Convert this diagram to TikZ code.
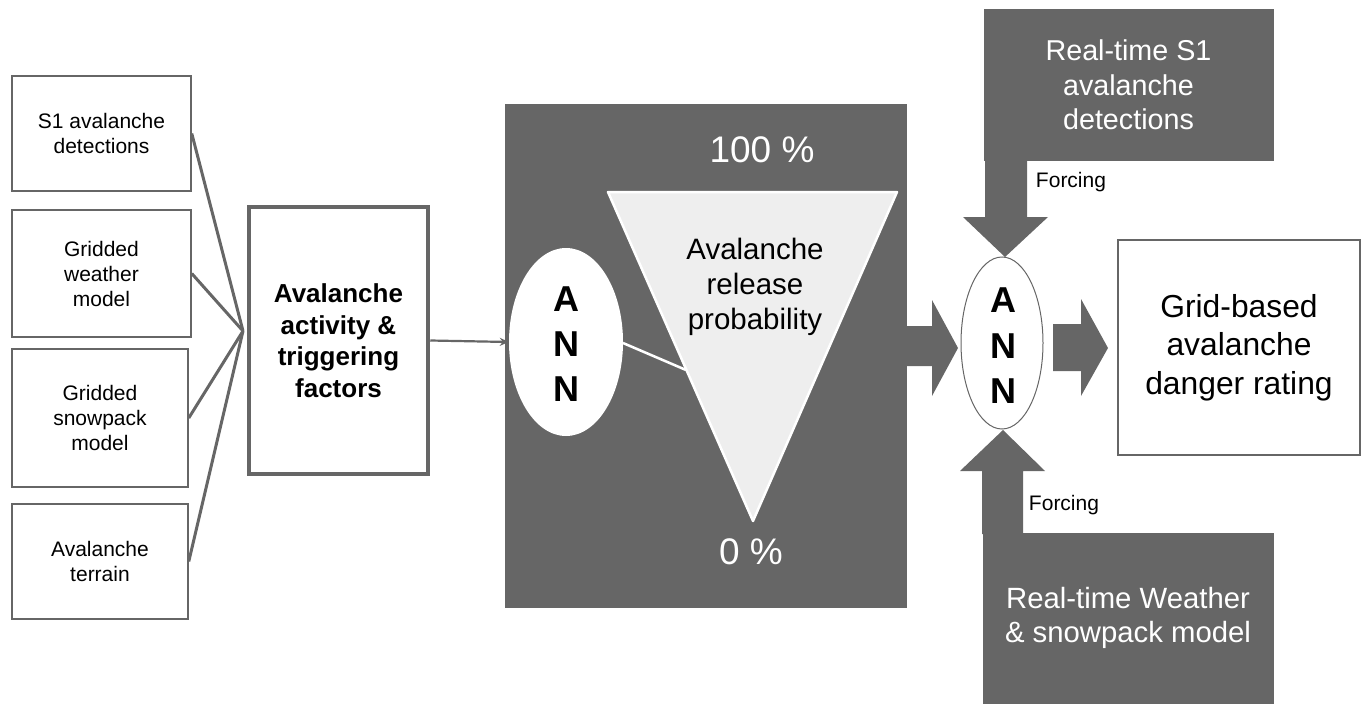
\documentclass[tikz,border=0pt]{standalone}
\usepackage{fontspec}
\setmainfont{Liberation Sans}
\usetikzlibrary{arrows.meta,shapes.geometric}
\definecolor{dg}{HTML}{666666}
\definecolor{tri}{HTML}{EEEEEE}
\newcommand{\fs}[2]{\fontsize{#1}{#2}\selectfont}
\begin{document}
\begin{tikzpicture}[x=1pt,y=-1pt,
  lbox/.style={draw=dg,line width=1.5pt,fill=white,align=center,inner sep=0pt,font=\fs{21}{25}},
  dbox/.style={draw=dg,fill=dg,line width=1pt,align=center,inner sep=0pt,text=white},
  blk/.style={fill=dg},
  lbl/.style={inner sep=0pt,align=center}]
\useasboundingbox (0,0) rectangle (1363,709);
% left inputs
\node[lbox,minimum width=179pt,minimum height=115pt] (b1) at (101.5,133.5) {S1 avalanche\\detections};
\node[lbox,minimum width=179pt,minimum height=127pt] (b2) at (101.5,273.5) {Gridded\\weather\\model};
\node[lbox,minimum width=176pt,minimum height=138pt] (b3) at (100,418) {Gridded\\snowpack\\model};
\node[lbox,minimum width=176pt,minimum height=115pt] (b4) at (100,561.5) {Avalanche\\terrain};
\coordinate (conv) at (243,331);
\node[draw=dg,line width=4.5pt,minimum width=179pt,minimum height=267pt,align=center,inner sep=0pt,font=\bfseries\fs{26}{31.5}] (main) at (338.5,340.5) {Avalanche\\activity \&\\triggering\\factors};
\foreach \b in {b1,b2,b3,b4} \draw[dg,line width=3pt] (\b.east) -- (conv);
% middle
\node[dbox,minimum width=401pt,minimum height=503pt] (mid) at (705.5,355.5) {};
\draw[white,line width=2.5pt,fill=tri,line join=round] (608,192) -- (897,192) -- (753,521) -- cycle;
\node[ellipse,fill=white,minimum width=114pt,minimum height=188pt,inner sep=0pt] (ann1) at (566,342) {};
\node[lbl,font=\bfseries\fs{36}{45}] at (566,344) {A\\N\\N};
\node[lbl,font=\fs{29.5}{35}] (prob) at (755,287) {Avalanche\\release\\probability};
\node[lbl,text=white,font=\fs{37}{40}] (p100) at (762,150) {100 \%};
\node[lbl,text=white,font=\fs{37}{40}] (p0) at (751,552) {0 \%};
\coordinate (tedge) at (686,370);
\draw[white,line width=2.5pt] (623,343) -- (tedge);
\draw[dg,line width=2.2pt,-{Stealth[length=9pt,width=8pt]}] (main.east) -- (ann1.west);
% right part
\node[ellipse,draw=dg,line width=1pt,fill=white,minimum width=82pt,minimum height=172pt,inner sep=0pt] (ann2) at (1002,343) {};
\node[lbl,font=\bfseries\fs{36}{45.5}] at (1003,346) {A\\N\\N};
\node[draw=dg,line width=2.3pt,fill=white,minimum width=242pt,minimum height=215pt,align=center,inner sep=0pt,font=\fs{31.8}{38.5}] (grid) at (1239,347.5) {Grid-based\\avalanche\\danger rating};
\node[dbox,minimum width=289pt,minimum height=150pt,font=\fs{28.7}{34.5}] (top) at (1128.5,85) {Real-time S1\\avalanche\\detections};
\node[dbox,minimum width=290pt,minimum height=170pt,font=\fs{29.3}{34}] (bot) at (1128,618) {Real-time Weather\\\& snowpack model};
% block arrows
\fill[blk] (906,326) -- (932,326) -- (932,300) -- (958,348) -- (932,396) -- (932,366) -- (906,366) -- cycle;
\fill[blk] (1053,324) -- (1081,324) -- (1081,299) -- (1108,348) -- (1081,396) -- (1081,371) -- (1053,371) -- cycle;
\fill[blk] (985,160) -- (1027,160) -- (1027,217) -- (1048,217) -- (1005,257) -- (963,217) -- (985,217) -- cycle;
\fill[blk] (982,534) -- (1023,534) -- (1023,471) -- (1045,471) -- (1003,430) -- (960,471) -- (982,471) -- cycle;
\node[lbl,font=\fs{21}{24}] (f1) at (1071,182) {Forcing};
\node[lbl,font=\fs{21}{24}] (f2) at (1064,505) {Forcing};
\end{tikzpicture}
\end{document}
